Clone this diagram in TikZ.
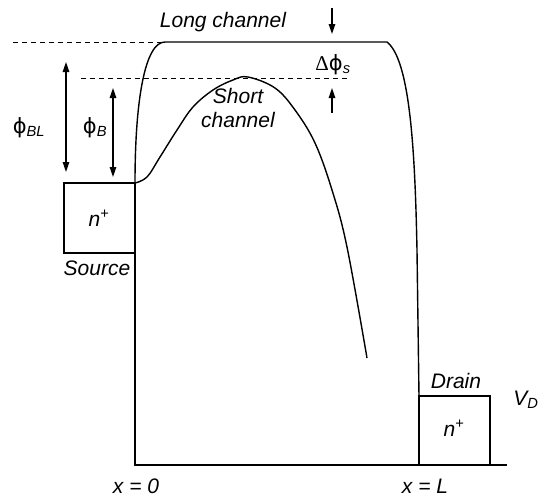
\documentclass[tikz,border=0pt]{standalone}
\usepackage{fontspec}
\setmainfont{Liberation Sans}
\newfontfamily\greekfont{DejaVu Sans}
\newfontfamily\deltafont{Liberation Serif}
\usetikzlibrary{arrows.meta,positioning}

\begin{document}
\begin{tikzpicture}[
    x=1pt, y=-1pt,
    lbl/.style={font=\fontsize{21}{24}\selectfont\itshape, inner sep=0pt},
    sym/.style={font=\fontsize{21}{24}\selectfont, inner sep=0pt},
    band/.style={line width=1.4pt},
    guide/.style={line width=1pt, dash pattern=on 5pt off 4pt},
    dimarrow/.style={line width=1.3pt, -{Triangle[length=10pt,width=6.5pt]}},
    dimboth/.style={line width=1.3pt, {Triangle[length=10pt,width=6.5pt]}-{Triangle[length=10pt,width=6.5pt]}}
]
\useasboundingbox (0,0) rectangle (550,496);

% Key points of the band edge
\coordinate (src) at (135,183);
\coordinate (lctop) at (165,42);
\coordinate (lcend) at (387,42);
\coordinate (drn) at (419,396);
\coordinate (bot) at (135,465);
\coordinate (botend) at (507,465);

% Source and drain regions
\draw[band] (64,253) rectangle (src);
\draw[band] (drn) rectangle (490,465);
\draw[band] (src) -- (bot) -- (botend);

% Long channel barrier
\draw[band] (src) .. controls (135,100) and (145,42) .. (lctop) -- (lcend)
    .. controls (410,60) and (415,150) .. (417,250) -- (drn);

% Short channel barrier
\draw[band] plot[smooth, tension=0.6] coordinates {
    (src) (147,177) (160,157) (177,130) (193,107) (213,90) (233,80)
    (248,77) (275,88) (295,110) (315,143) (332,190) (347,247) (367,358)};

% Reference levels
\coordinate (lvlA) at (13,42);
\coordinate (lvlB) at (81,78);
\coordinate (lvlBend) at (349,78);
\draw[guide] (lvlA) -- (lctop);
\draw[guide] (lvlB) -- (lvlBend);

% Barrier heights
\coordinate (blTop) at (66,62);
\coordinate (blBot) at (66,172);
\coordinate (bTop) at (113,88);
\coordinate (bBot) at (113,177);
\draw[dimboth] (blTop) -- (blBot);
\draw[dimboth] (bTop) -- (bBot);

% Barrier lowering
\coordinate (dsA) at (332,8);
\coordinate (dsB) at (332,34);
\coordinate (dsC) at (332,113);
\coordinate (dsD) at (332,88);
\draw[dimarrow] (dsA) -- (dsB);
\draw[dimarrow] (dsC) -- (dsD);

% Labels
\node[lbl] (longlbl) at (223,22) {Long channel};
\node[lbl, align=center] (shortlbl) at (238,108) {Short\\channel};
\node[sym] (dphi) at (333,65) {{\deltafont Δ}{\greekfont ϕ}\textsubscript{\itshape s}};
\node[sym] (phibl) at (29,128) {{\greekfont ϕ}\textsubscript{\itshape BL}};
\node[sym] (phib) at (95,128) {{\greekfont ϕ}\textsubscript{\itshape B}};
\node[lbl] (srcn) at (99,218) {n\textsuperscript{\upshape +}};
\node[lbl] (srclbl) at (97,268) {Source};
\node[lbl] (drnn) at (454,428) {n\textsuperscript{\upshape +}};
\node[lbl] (drnlbl) at (456,381) {Drain};
\node[lbl] (vd) at (526,400) {V\textsubscript{D}};
\node[lbl, anchor=base] (x0) at (136,493) {x = 0};
\node[lbl, anchor=base] (xl) at (425,493) {x = L};
\end{tikzpicture}
\end{document}
